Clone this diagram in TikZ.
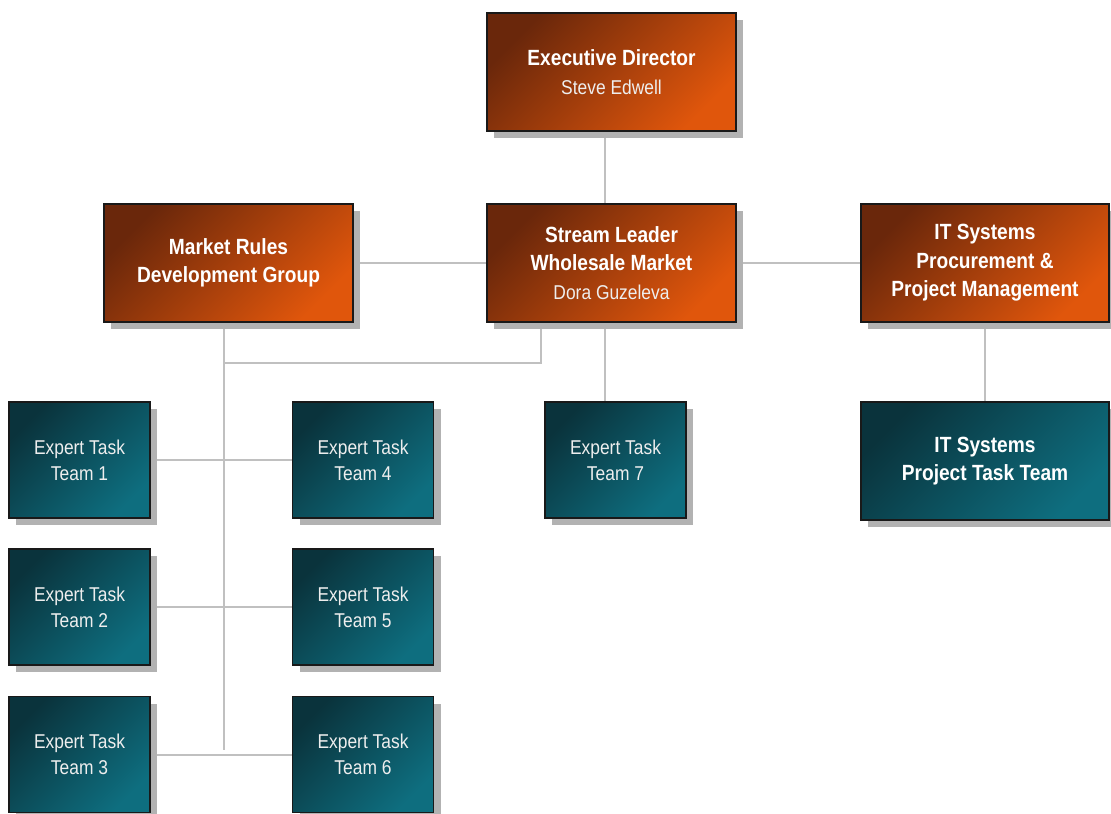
\documentclass[tikz,border=0pt]{standalone}
\usepackage{fontspec}
\setmainfont{Liberation Sans}[FakeStretch=0.87]
\usetikzlibrary{shadows,backgrounds}

\definecolor{rustdark}{HTML}{6A270B}
\definecolor{rustlight}{HTML}{E0560C}
\definecolor{tealdark}{HTML}{0A333C}
\definecolor{teallight}{HTML}{0E6E7F}
\definecolor{linkgray}{HTML}{C0C0C0}
\definecolor{shadowgray}{HTML}{B2B2B2}
\definecolor{subtext}{HTML}{EEEEEE}

\newcommand\subline[1]{{\mdseries\fontsize{20bp}{26bp}\selectfont\color{subtext}#1}}

\tikzset{
  x=1bp, y=-1bp,
  card/.style={draw=black!90, line width=1.3bp, inner sep=0pt, align=center,
    text=white,
    drop shadow={shadow xshift=7bp, shadow yshift=-7bp, fill=shadowgray, opacity=1}},
  rust/.style={card, top color=rustdark, bottom color=rustlight, shading angle=45,
    minimum width=249bp, minimum height=118bp,
    font=\fontsize{22bp}{28.5bp}\selectfont\bfseries},
  tealbig/.style={card, top color=tealdark, bottom color=teallight, shading angle=45,
    minimum width=248bp, minimum height=118bp,
    font=\fontsize{22bp}{28.5bp}\selectfont\bfseries},
  teamcard/.style={card, top color=tealdark, bottom color=teallight, shading angle=45,
    minimum width=141bp, minimum height=116bp, text=subtext,
    font=\fontsize{20bp}{26bp}\selectfont},
  link/.style={draw=linkgray, line width=2bp}
}

\begin{document}
\begin{tikzpicture}
\useasboundingbox (0,0) rectangle (1111,814);

% upper tier
\node[rust] (exec) at (611.5,72) {Executive Director\\\subline{Steve Edwell}};
\node[rust] (rules) at (228.5,263) {Market Rules\\Development Group};
\node[rust] (stream) at (611.5,263) {Stream Leader\\Wholesale Market\\\subline{Dora Guzeleva}};
\node[rust, minimum width=248bp] (itp) at (985,263) {IT Systems\\Procurement \&\\Project Management};

% task teams
\node[teamcard] (t1) at (79.5,460) {Expert Task\\Team 1};
\node[teamcard] (t2) at (79.5,607) {Expert Task\\Team 2};
\node[teamcard] (t3) at (79.5,754.5) {Expert Task\\Team 3};
\node[teamcard] (t4) at (363,460) {Expert Task\\Team 4};
\node[teamcard] (t5) at (363,607) {Expert Task\\Team 5};
\node[teamcard] (t6) at (363,754.5) {Expert Task\\Team 6};
\node[teamcard] (t7) at (615.5,460) {Expert Task\\Team 7};
\node[tealbig] (itt) at (985,461) {IT Systems\\Project Task Team};

% routing points
\coordinate (vmid) at (605,0);
\coordinate (vbranch) at (541,0);
\coordinate (spine) at (224,363);
\coordinate (spineend) at (224,750);

\begin{scope}[on background layer]
  \draw[link] (exec.south -| vmid) -- (stream.north -| vmid);
  \draw[link] (rules.east) -- (stream.west);
  \draw[link] (stream.east) -- (itp.west);
  \draw[link] (stream.south -| vmid) -- (t7.north -| vmid);
  \draw[link] (itp.south) -- (itt.north);
  \draw[link] (stream.south -| vbranch) |- (spine);
  \draw[link] (rules.south -| spine) -- (spineend);
  \draw[link] (t1.east) -- (t4.west);
  \draw[link] (t2.east) -- (t5.west);
  \draw[link] (t3.east) -- (t6.west);
\end{scope}
\end{tikzpicture}
\end{document}
